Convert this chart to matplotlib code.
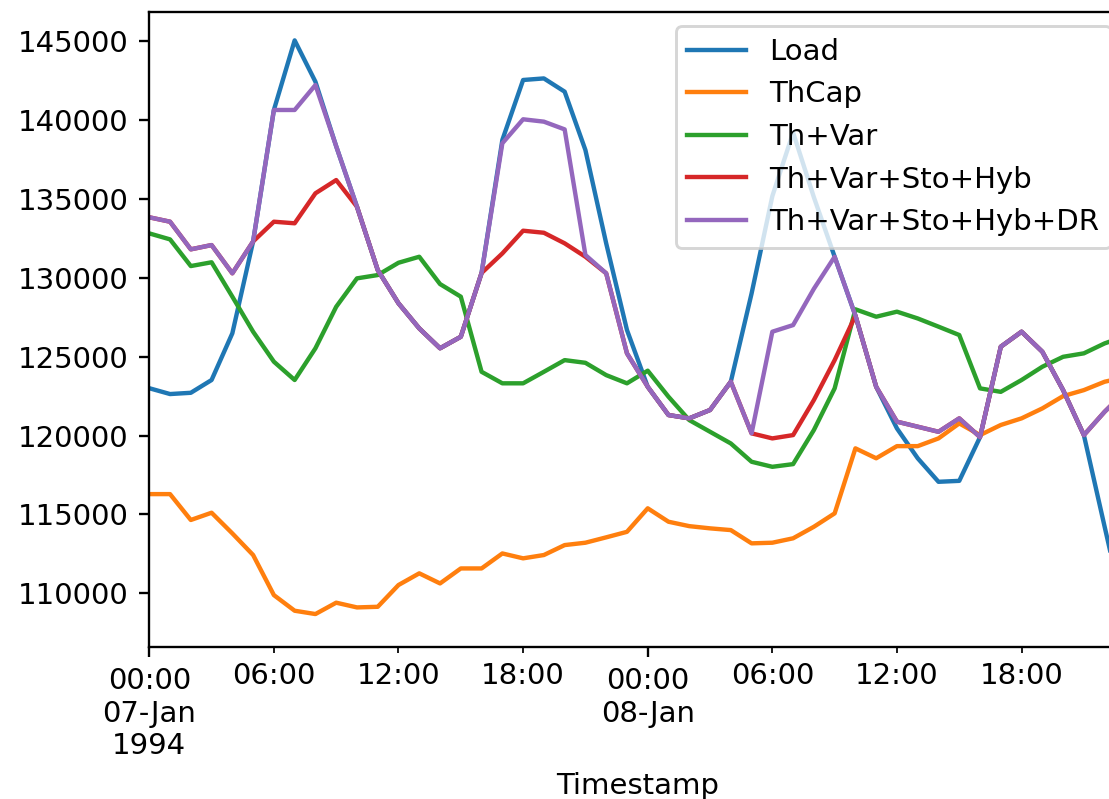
import pandas as pd
import matplotlib
matplotlib.use("Agg")
import matplotlib.pyplot as plt

# hourly values, 07-Jan 00:00 .. 08-Jan 23:00
timestamps = pd.date_range("1994-01-07 00:00", periods=48, freq="h", name="Timestamp")

load = [
    123000, 122630, 122710, 123520, 126480, 132300, 140630, 145040,
    142420, 138330, 134500, 130490, 128380, 126790, 125530, 126260,
    130300, 138730, 142530, 142630, 141790, 138090, 132180, 126690,
    123090, 121300, 121090, 121620, 123410, 129000, 135170, 139200,
    135100, 131330, 127600, 123090, 120450, 118560, 117070, 117130,
    119900, 125630, 126580, 125310, 122880, 120030, 114220, 108450,
]
th_cap = [
    116290, 116290, 114650, 115110, 113800, 112430, 109890, 108900,
    108690, 109410, 109110, 109150, 110530, 111270, 110630, 111580,
    111580, 112530, 112220, 112430, 113060, 113210, 113550, 113900,
    115390, 114540, 114260, 114120, 114010, 113170, 113210, 113490,
    114220, 115070, 119190, 118560, 119330, 119330, 119820, 120770,
    120030, 120670, 121090, 121720, 122500, 122880, 123410, 123700,
]
th_var = [
    132810, 132430, 130740, 130980, 128800, 126580, 124680, 123520,
    125530, 128160, 129960, 130170, 130950, 131330, 129600, 128800,
    124040, 123310, 123310, 124040, 124780, 124610, 123830, 123310,
    124110, 122460, 120980, 120240, 119500, 118340, 118020, 118190,
    120350, 122990, 128000, 127530, 127850, 127420, 126900, 126370,
    122990, 122770, 123520, 124360, 124990, 125210, 125840, 126300,
]
th_var_sto_hyb = [
    133830, 133550, 131800, 132070, 130280, 132300, 133550, 133450,
    135350, 136190, 134500, 130490, 128380, 126790, 125530, 126260,
    130300, 131540, 132980, 132850, 132180, 131330, 130280, 125210,
    123090, 121300, 121090, 121620, 123410, 120140, 119820, 120030,
    122250, 124780, 127600, 123090, 120880, 120560, 120240, 121090,
    119900, 125630, 126580, 125310, 122880, 120030, 121510, 122800,
]
th_var_sto_hyb_dr = [
    133830, 133550, 131800, 132070, 130280, 132300, 140630, 140630,
    142210, 138330, 134500, 130490, 128380, 126790, 125530, 126260,
    130300, 138520, 140040, 139890, 139400, 131440, 130280, 125210,
    123090, 121300, 121090, 121620, 123410, 120140, 126580, 127000,
    129300, 131330, 127600, 123090, 120880, 120560, 120240, 121090,
    119900, 125630, 126580, 125310, 122880, 120030, 121510, 122800,
]

df = pd.DataFrame(
    {
        "Load": load,
        "ThCap": th_cap,
        "Th+Var": th_var,
        "Th+Var+Sto+Hyb": th_var_sto_hyb,
        "Th+Var+Sto+Hyb+DR": th_var_sto_hyb_dr,
    },
    index=timestamps,
)

DPI = 210
fig = plt.figure(figsize=(1109 / DPI, 799 / DPI), dpi=DPI)
ax = fig.add_axes([0.1346, 0.1906, 0.8802, 0.7950])
df.plot(ax=ax)
ax.set_title("Available capacity per scenario (hourly) vs. peak load", pad=8)
ax.legend(loc="upper right")

fig.savefig("out.png", dpi=DPI)
